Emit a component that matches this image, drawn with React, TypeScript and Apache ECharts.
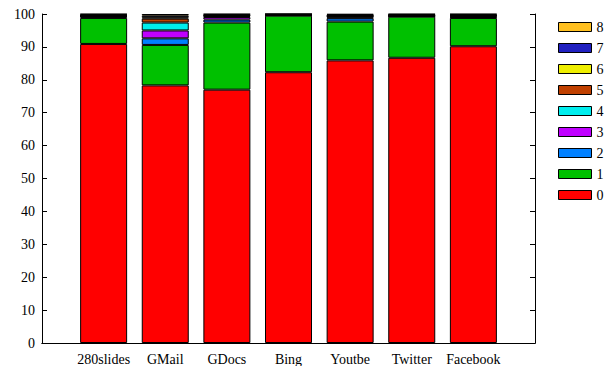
import React, { useEffect, useRef } from "react";
import * as echarts from "echarts";

const categories = ["280slides", "GMail", "GDocs", "Bing", "Youtbe", "Twitter", "Facebook"];
const seriesNames = ["0", "1", "2", "3", "4", "5", "6", "7", "8"];
const colors = ["#ff0000", "#00c000", "#0080ff", "#c000ff", "#00eeee", "#c04000", "#eeee00", "#2020c0", "#ffc020"];

const s0 = [90.9, 78.3, 77.0, 82.3, 85.9, 86.7, 90.2];
const s1 = [7.9, 12.3, 20.4, 17.2, 11.8, 12.5, 8.6];
const s2 = [0.4, 2.0, 0.9, 0.1, 1.0, 0.1, 0.2];
const s3 = [0.1, 2.4, 0.8, 0.1, 0.2, 0.1, 0.2];
const s4 = [0.1, 2.4, 0.2, 0.1, 0.4, 0.1, 0.2];
const s5 = [0.1, 1.2, 0.2, 0.0, 0.1, 0.1, 0.1];
const s6 = [0.1, 0.4, 0.1, 0.0, 0.1, 0.1, 0.1];
const s7 = [0.3, 0.5, 0.3, 0.2, 0.3, 0.2, 0.3];
const s8 = [0.1, 0.5, 0.1, 0.0, 0.2, 0.1, 0.1];
const yTicks = [0, 10, 20, 30, 40, 50, 60, 70, 80, 90, 100];

const allSeries = [s0, s1, s2, s3, s4, s5, s6, s7, s8];
const FONT = "'Liberation Serif', 'Times New Roman', serif";

export default function App() {
  const ref = useRef<HTMLDivElement>(null);
  useEffect(() => {
    if (!ref.current) return;
    const chart = echarts.init(ref.current, null, { renderer: "svg" });
    const xData = ["", ...categories, ""];
    const series = allSeries.map((vals, i) => ({
      name: seriesNames[i],
      type: "bar",
      stack: "total",
      barWidth: 47,
      data: ["-", ...vals, "-"],
      itemStyle: { color: colors[i], borderColor: "#000", borderWidth: 1 },
      emphasis: { disabled: true },
    }));
    chart.setOption({
      animation: false,
      color: colors,
      grid: { left: 42, right: 75, top: 14, bottom: 23, containLabel: false },
      legend: {
        orient: "vertical",
        left: 553,
        top: 15,
        data: [...seriesNames].reverse(),
        itemWidth: 33,
        itemHeight: 9,
        itemGap: 7,
        icon: "rect",
        itemStyle: { borderColor: "#000", borderWidth: 1 },
        textStyle: { fontFamily: FONT, fontSize: 14, color: "#000" },
      },
      xAxis: [
        {
          type: "category",
          data: xData,
          boundaryGap: false,
          axisLine: { lineStyle: { color: "#000", width: 1 } },
          axisTick: { show: false },
          axisLabel: { fontFamily: FONT, fontSize: 14, color: "#000", margin: 9, interval: 0 },
          splitLine: { show: false },
        },
        {
          type: "category",
          data: xData,
          boundaryGap: false,
          position: "top",
          axisLine: { lineStyle: { color: "#000", width: 1 } },
          axisTick: { show: false },
          axisLabel: { show: false },
        },
      ],
      yAxis: [
        {
          type: "value",
          min: yTicks[0],
          max: yTicks[yTicks.length - 1],
          interval: 10,
          axisLine: { show: true, lineStyle: { color: "#000", width: 1 } },
          axisTick: { show: true, inside: true, length: 5, lineStyle: { color: "#000" } },
          axisLabel: { fontFamily: FONT, fontSize: 14, color: "#000", margin: 7 },
          splitLine: { show: false },
        },
        {
          type: "value",
          min: yTicks[0],
          max: yTicks[yTicks.length - 1],
          interval: 10,
          position: "right",
          axisLine: { show: true, lineStyle: { color: "#000", width: 1 } },
          axisTick: { show: true, inside: true, length: 5, lineStyle: { color: "#000" } },
          axisLabel: { show: false },
          splitLine: { show: false },
        },
      ],
      series,
    });
    return () => chart.dispose();
  }, []);
  return <div ref={ref} style={{ width: 610, height: 366, position: "absolute", left: 0, top: 0, background: "#fff" }} />;
}
